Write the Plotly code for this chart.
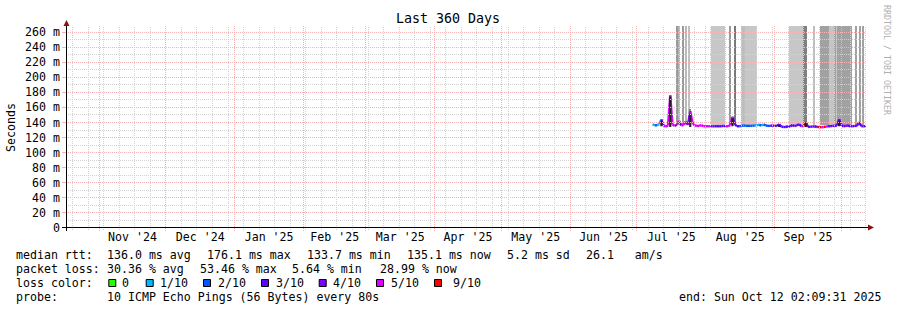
import plotly.graph_objects as go
import pandas as pd

# ---------------- data ----------------
range_start = "2024-10-17 02:09:31"
range_end = "2025-10-12 02:09:31"
y_max = 268

y_tick_values = [0, 20, 40, 60, 80, 100, 120, 140, 160, 180, 200, 220, 240, 260]
y_tick_labels = ["0", "20 m", "40 m", "60 m", "80 m", "100 m", "120 m", "140 m",
                 "160 m", "180 m", "200 m", "220 m", "240 m", "260 m"]

# daily median RTT (ms), starting 2025-07-08
median_start = "2025-07-08"
median_ms = [137.5, 136.5, 136.0, 138.0, 144.0, 136.0, 134.5, 136.0, 176.1, 137.0,
             135.5, 137.0, 142.0, 136.0, 137.0, 141.0, 137.0, 155.0, 140.0, 136.0,
             135.5, 135.5, 136.5, 135.0, 135.0, 135.0, 135.0, 135.0, 135.0, 135.0,
             135.0, 135.0, 135.5, 135.0, 135.0, 136.5, 147.6, 138.0, 135.0, 135.0,
             135.5, 136.0, 135.5, 135.5, 135.5, 135.5, 136.0, 136.5, 137.0, 136.0,
             137.5, 136.0, 135.5, 135.5, 136.0, 135.5, 135.5, 137.5, 134.5, 134.0,
             134.0, 135.0, 134.5, 136.5, 135.0, 136.5, 137.5, 135.0, 135.0, 140.5,
             134.0, 134.5, 134.5, 135.0, 134.0, 134.0, 133.7, 134.0, 134.5, 135.0,
             135.0, 135.5, 135.5, 136.0, 144.5, 136.0, 135.0, 135.5, 136.0, 135.0,
             135.0, 135.5, 135.5, 140.5, 135.0, 135.0, 135.1]
# lost pings out of 10 for each median sample
loss_tenths = [1, 1, 2, 1, 1, 3, 5, 5, 5, 5,
               5, 4, 5, 3, 5, 5, 3, 4, 5, 5,
               5, 5, 5, 5, 5, 5, 5, 3, 3, 3,
               3, 3, 3, 3, 5, 5, 5, 3, 3, 3,
               2, 2, 2, 2, 2, 2, 2, 1, 1, 2,
               1, 2, 2, 2, 3, 3, 3, 3, 3, 3,
               3, 3, 3, 3, 3, 4, 3, 3, 5, 9,
               3, 3, 3, 3, 3, 9, 9, 5, 9, 5,
               3, 3, 3, 3, 4, 3, 3, 3, 4, 3,
               3, 3, 3, 4, 3, 3, 3]

# light smoke (spread of individual pings): time span, low/high ms, density 0..1
smoke_from = ["2025-07-18 16:00", "2025-07-19 22:00", "2025-07-21 07:00", "2025-07-22 17:00",
              "2025-07-24 08:00", "2025-08-03 05:00", "2025-08-11 19:00", "2025-08-13 16:00",
              "2025-08-17 01:00", "2025-08-18 15:00", "2025-09-07 13:00", "2025-09-13 21:00",
              "2025-09-18 11:00", "2025-09-21 09:00", "2025-09-25 13:00", "2025-09-27 16:00",
              "2025-09-28 19:00", "2025-09-29 06:00", "2025-10-07 08:00", "2025-10-09 04:00",
              "2025-10-10 15:00", "2025-07-24 16:00"]
smoke_to = ["2025-07-19 03:00", "2025-07-20 09:00", "2025-07-21 18:00", "2025-07-23 04:00",
            "2025-07-24 19:00", "2025-08-09 18:00", "2025-08-12 06:00", "2025-08-14 19:00",
            "2025-08-18 15:00", "2025-08-23 21:00", "2025-09-13 21:00", "2025-09-15 09:00",
            "2025-09-18 22:00", "2025-09-25 13:00", "2025-09-27 16:00", "2025-09-28 19:00",
            "2025-09-29 06:00", "2025-10-05 15:00", "2025-10-07 19:00", "2025-10-09 14:00",
            "2025-10-11 04:00", "2025-07-25 08:00"]
smoke_low = [137, 137, 137, 137, 137, 136, 137, 137, 136, 136, 136, 136, 136, 136, 136, 136,
             136, 136, 136, 136, 136, 150]
smoke_high = [300, 300, 300, 300, 300, 300, 300, 300, 300, 300, 300, 300, 300, 300, 300, 300,
              300, 300, 300, 300, 300, 158]
smoke_density = [0.40, 0.31, 0.40, 0.28, 0.25, 0.22, 0.40, 0.53, 0.26, 0.22, 0.22, 0.50,
                 0.25, 0.37, 0.23, 0.37, 0.23, 0.37, 0.37, 0.37, 0.37, 0.50]

# dense smoke cores (short bursts): time, low/high ms, density
core_at = ["2025-07-16 00:00", "2025-07-12 00:00", "2025-07-25 00:00", "2025-08-13 00:00",
           "2025-09-15 00:00", "2025-09-30 00:00", "2025-09-03 00:00"]
core_low = [134, 135, 134, 135, 134, 135, 134]
core_high = [174.5, 142, 151, 145.5, 139, 142.5, 137]
core_density = [0.88, 0.85, 0.85, 0.88, 0.88, 0.88, 0.85]

legend_tenths = [0, 1, 2, 3, 4, 5, 9]
legend_labels = ["0", "1/10", "2/10", "3/10", "4/10", "5/10", "9/10"]
loss_colors = {0: "#26ff00", 1: "#00b8ff", 2: "#0059ff", 3: "#5e00ff",
               4: "#7e00ff", 5: "#dd00ff", 9: "#ff0000"}

stats_rtt = ["136.0 ms avg", "176.1 ms max", "133.7 ms min", "135.1 ms now", "5.2 ms sd", "26.1   am/s"]
stats_loss = ["30.36 % avg", "53.46 % max", "5.64 % min", "28.99 % now"]
probe_text = "10 ICMP Echo Pings (56 Bytes) every 80s"
end_text = "end: Sun Oct 12 02:09:31 2025"
title_text = "Last 360 Days"

# ---------------- layout geometry ----------------
W, H = 897, 310
L_PX, R_PX, T_PX, B_PX = 66, 866, 26, 228
PW, PH = R_PX - L_PX, B_PX - T_PX
MONO = "DejaVu Sans Mono"
FS = 11.6
MAJOR = "#f2b4b4"
MINOR = "#d2d2d2"

t0 = pd.Timestamp(range_start)
t1 = pd.Timestamp(range_end)


def px_x(xp):
    return (xp - L_PX) / PW


def px_y(yp):
    return (B_PX - yp) / PH


def date_px(t):
    return L_PX + (pd.Timestamp(t) - t0) / (t1 - t0) * PW


def snap_x_date(t):
    p = date_px(t)
    return px_x(int(p) + 0.5)


def snap_y_val(v):
    p = T_PX + (1 - v / y_max) * PH
    r = min(int(p), B_PX - 1)
    return px_y(r + 0.5)


def gray(d):
    g = round(255 * (1 - d))
    return f"rgb({g},{g},{g})"


fig = go.Figure()

# light smoke as bars
sf = pd.to_datetime(smoke_from)
st = pd.to_datetime(smoke_to)
fig.add_trace(go.Bar(
    x=sf + (st - sf) / 2,
    y=[h - l for h, l in zip(smoke_high, smoke_low)], base=smoke_low,
    width=[(b - a).total_seconds() * 1000 for a, b in zip(sf, st)],
    marker=dict(color=[gray(d) for d in smoke_density], line=dict(width=0)),
    hoverinfo="skip", showlegend=False))

# median line colored by loss
days = pd.date_range(median_start, periods=len(median_ms), freq="D")
for lvl, col in loss_colors.items():
    xs, ys = [], []
    for i in range(len(median_ms)):
        if loss_tenths[i] == lvl:
            j = max(i - 1, 0)
            xs += [days[j], days[i], None]
            ys += [median_ms[j], median_ms[i], None]
    if xs:
        fig.add_trace(go.Scatter(x=xs, y=ys, mode="lines",
                                 line=dict(color=col, width=2.4),
                                 hoverinfo="skip", showlegend=False))

# dense smoke cores on top
for t, lo, hi, d in zip(core_at, core_low, core_high, core_density):
    fig.add_trace(go.Scatter(x=[pd.Timestamp(t), pd.Timestamp(t)], y=[lo, hi], mode="lines",
                             line=dict(color=gray(d), width=2.2),
                             hoverinfo="skip", showlegend=False))

shapes = []
dot = "1px,1px"
# horizontal grid
for v in range(10, y_max, 10):
    c = MAJOR if v % 20 == 0 else MINOR
    yy = snap_y_val(v)
    shapes.append(dict(type="line", xref="paper", yref="paper", x0=0, x1=1, y0=yy, y1=yy,
                       line=dict(color=c, width=1, dash=dot), layer="above"))
    if v % 20 == 0:
        shapes.append(dict(type="line", xref="paper", yref="paper", x0=px_x(62), x1=px_x(66),
                           y0=yy, y1=yy, line=dict(color=MAJOR, width=1), layer="above"))

# vertical grid: months (major) and weeks (minor, Sundays)
month_starts = pd.date_range(t0.normalize(), t1, freq="MS")
month_starts = [m for m in month_starts if t0 < m < t1]
sundays = pd.date_range(t0.normalize(), t1, freq="W-SUN")
sundays = [s for s in sundays if t0 < s < t1 and s.day != 1]
for s in sundays:
    xx = snap_x_date(s)
    shapes.append(dict(type="line", xref="paper", yref="paper", x0=xx, x1=xx,
                       y0=px_y(230), y1=1, line=dict(color=MINOR, width=1, dash=dot), layer="above"))
for m in month_starts:
    xx = snap_x_date(m)
    shapes.append(dict(type="line", xref="paper", yref="paper", x0=xx, x1=xx,
                       y0=px_y(231), y1=1, line=dict(color=MAJOR, width=1, dash=dot), layer="above"))

# axes with arrows
ax_y = px_y(227.5)
shapes.append(dict(type="line", xref="paper", yref="paper", x0=px_x(62), x1=px_x(869),
                   y0=ax_y, y1=ax_y, line=dict(color="black", width=1), layer="above"))
shapes.append(dict(type="line", xref="paper", yref="paper", x0=px_x(66.5), x1=px_x(66.5),
                   y0=px_y(231), y1=px_y(24), line=dict(color="black", width=1), layer="above"))
arrow_col = "#8b1010"
shapes.append(dict(type="path", xref="paper", yref="paper",
                   path=f"M {px_x(868)} {px_y(224.5)} L {px_x(874)} {px_y(227.5)} L {px_x(868)} {px_y(230.5)} Z",
                   fillcolor=arrow_col, line=dict(width=0), layer="above"))
shapes.append(dict(type="path", xref="paper", yref="paper",
                   path=f"M {px_x(63.5)} {px_y(26)} L {px_x(66.5)} {px_y(20)} L {px_x(69.5)} {px_y(26)} Z",
                   fillcolor=arrow_col, line=dict(width=0), layer="above"))

# legend boxes
box_left = [108.3, 145.7, 203, 261, 318.7, 376, 434]
label_left = [122, 159.5, 217.5, 275.5, 332.5, 391, 452.5]
for bx, t in zip(box_left, legend_tenths):
    shapes.append(dict(type="rect", xref="paper", yref="paper",
                       x0=px_x(bx + 0.5), x1=px_x(bx + 7.5), y0=px_y(279.5), y1=px_y(286.5),
                       fillcolor=loss_colors[t], line=dict(color="black", width=1), layer="above"))

annotations = []


def txt(x, y, s, anchor="left", size=FS, color="black", angle=0, yanchor="middle"):
    annotations.append(dict(x=px_x(x), y=px_y(y), xref="paper", yref="paper", text=s,
                            showarrow=False, xanchor=anchor, yanchor=yanchor, textangle=angle,
                            font=dict(family=MONO, size=size, color=color),
                            borderpad=0, borderwidth=0))


txt(448, 19, title_text, anchor="center", size=13.3)
txt(11, 127, "Seconds", anchor="center", angle=-90)
txt(887, 60, "RRDTOOL / TOBI OETIKER", anchor="center", size=8.3, color="#b0b0b0", angle=90)

rows_y = [255, 268.7, 282.7, 296.7]
txt(15.5, rows_y[0], "median rtt:")
for x, s in zip([106.8, 206.8, 306.8, 406.8, 506.8, 586.3], stats_rtt):
    txt(x, rows_y[0], s)
txt(15.5, rows_y[1], "packet loss:")
for x, s in zip([106.8, 199.5, 292.2, 379.5], stats_loss):
    txt(x, rows_y[1], s)
txt(15.5, rows_y[2], "loss color:")
for x, s in zip(label_left, legend_labels):
    txt(x, rows_y[2], s)
txt(15.5, rows_y[3], "probe:")
txt(106.8, rows_y[3], probe_text)
txt(880.5, rows_y[3], end_text, anchor="right")

# month labels at month midpoints
all_months = pd.date_range(t0.normalize() - pd.offsets.MonthBegin(1), t1, freq="MS")
tick_vals, tick_text = [], []
for m in all_months:
    mid = m + (m + pd.offsets.MonthBegin(1) - m) / 2
    if t0 < mid < t1:
        tick_vals.append(mid)
        tick_text.append(m.strftime("%b '%y"))

fig.update_layout(
    width=W, height=H,
    margin=dict(l=L_PX, r=W - R_PX, t=T_PX, b=H - B_PX, pad=0),
    paper_bgcolor="white", plot_bgcolor="white",
    barmode="overlay", bargap=0,
    showlegend=False,
    shapes=shapes, annotations=annotations,
    xaxis=dict(type="date", range=[t0, t1], showgrid=False, zeroline=False, showline=False,
               tickvals=tick_vals, ticktext=tick_text, ticks="",
               tickfont=dict(family=MONO, size=FS, color="black"), ticklabelstandoff=0,
               fixedrange=True),
    yaxis=dict(range=[0, y_max], showgrid=False, zeroline=False, showline=False,
               tickvals=y_tick_values, ticktext=y_tick_labels, ticks="",
               tickfont=dict(family=MONO, size=FS, color="black"), ticklabelstandoff=5,
               fixedrange=True),
)

fig.write_html("out.html")
